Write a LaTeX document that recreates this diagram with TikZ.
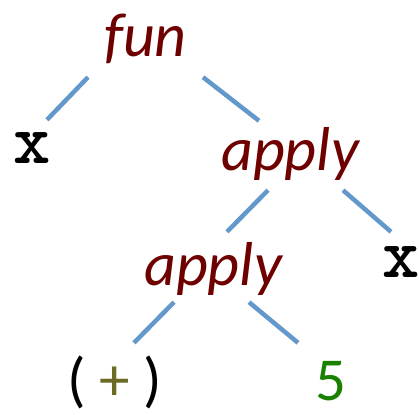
\documentclass[tikz,border=0pt]{standalone}
\usepackage{fontspec}
\usepackage{xcolor}
\usepackage{tikz}
\newfontfamily\termfont{Carlito}
\definecolor{termred}{HTML}{6E0000}
\definecolor{edgeblue}{HTML}{6398CB}
\definecolor{numgreen}{HTML}{1A8000}
\definecolor{opolive}{HTML}{6B6B23}
\tikzset{
  edge/.style={edgeblue,line width=4.5pt},
  term/.style={anchor=base,inner sep=0pt,text=termred,font=\fontsize{62}{70}\selectfont\termfont\itshape},
  var/.style={anchor=base,inner sep=0pt,font=\fontsize{71}{70}\selectfont\ttfamily\bfseries},
  lit/.style={anchor=base,inner sep=0pt,font=\fontsize{61}{70}\selectfont\termfont}
}
\begin{document}
\begin{tikzpicture}[x=1pt,y=-1pt]
\useasboundingbox (0,0) rectangle (419,414);
% nodes, placed on their baselines
\node[term,text height=50pt,text depth=20pt] (fun) at (145.5,57) {fun};
\node[var,text height=43pt,text depth=0pt] (xl) at (32,163) {x};
\node[term,text height=49pt,text depth=20pt] (app1) at (290,170) {apply};
\node[term,text height=53pt,text depth=17pt] (app2) at (213,285) {apply};
\node[var,text height=45pt,text depth=0pt] (xr) at (401.5,277) {x};
\node[lit,text height=57pt,text depth=11pt] (plus) at (115,400) {( \textcolor{opolive}{+} )};
\node[lit,text=numgreen,text height=57pt,text depth=11pt] (five) at (330.5,400) {5};
% edges
\draw[edge] ([xshift=-57.5pt]fun.south) -- ([xshift=15pt]xl.north);
\draw[edge] ([xshift=57.5pt]fun.south) -- ([xshift=-31pt]app1.north);
\draw[edge] ([xshift=-22pt]app1.south) -- ([xshift=14pt]app2.north);
\draw[edge] ([xshift=53pt]app1.south) -- ([xshift=-10.5pt]xr.north);
\draw[edge] ([xshift=-39pt]app2.south) -- ([xshift=19pt]plus.north);
\draw[edge] ([xshift=36pt]app2.south) -- ([xshift=-32.5pt]five.north);
\end{tikzpicture}
\end{document}
